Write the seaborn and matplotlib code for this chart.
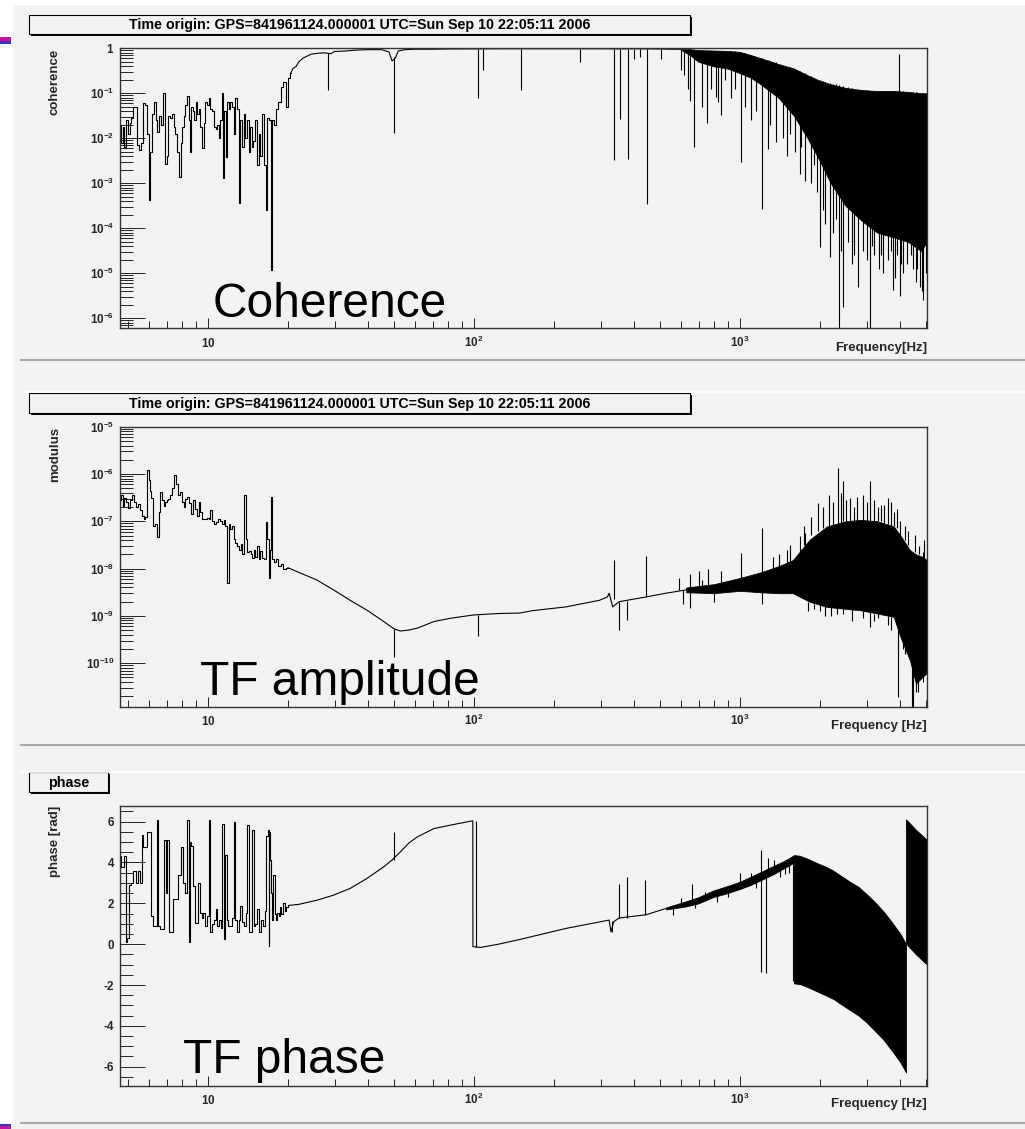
import numpy as np
import pandas as pd
import seaborn as sns
import matplotlib
matplotlib.use("Agg")
import matplotlib.pyplot as plt
from matplotlib.patches import Rectangle
from matplotlib.ticker import LogLocator, NullFormatter, MultipleLocator

# ---------------- data ----------------
title_text = "Time origin: GPS=841961124.000001 UTC=Sun Sep 10 22:05:11 2006"

# Coherence (log10 values)
coh_low_f = [4.68, 4.75, 4.82, 4.90, 4.97, 5.05, 5.12, 5.20, 5.29, 5.37, 5.45, 5.55, 5.65, 5.77, 5.85,
             5.95, 6.05, 6.12, 6.20, 6.32, 6.42, 6.50, 6.60, 6.72, 6.86, 6.95, 7.05, 7.17, 7.28, 7.38,
             7.49, 7.62, 7.75, 7.85, 7.95, 8.05, 8.17, 8.30, 8.40, 8.53, 8.62, 8.72, 8.85, 8.95, 9.05,
             9.20, 9.31, 9.45, 9.60, 9.71, 9.85, 10.0, 10.15, 10.3, 10.45, 10.6, 10.8, 10.95, 11.07, 11.2,
             11.35, 11.45, 11.6, 11.75, 11.9, 12.07, 12.2, 12.4, 12.61, 12.8, 13.0, 13.17, 13.3, 13.5, 13.76,
             13.9, 14.1, 14.37, 14.55, 14.7, 15.01, 15.2, 15.45, 15.67, 15.9, 16.1, 16.37, 16.6, 16.8, 17.1,
             17.4, 17.6, 17.85, 18.2, 18.65, 19.0, 19.5, 19.8, 20.1, 20.5]
coh_low_log = [-1.70, -2.10, -1.75, -2.20, -1.60, -1.90, -1.65, -1.55, -1.30, -1.30, -2.15, -2.25, -2.10, -1.22, -1.25,
               -1.90, -3.37, -2.30, -1.45, -1.19, -1.60, -1.85, -1.50, -1.70, -1.00, -2.56, -2.40, -1.50, -1.55, -1.45,
               -1.75, -1.90, -2.30, -2.85, -2.10, -1.75, -1.50, -1.25, -1.07, -1.60, -2.30, -1.30, -1.40, -1.60, -1.20,
               -1.45, -1.35, -1.75, -2.22, -1.65, -1.20, -1.25, -1.10, -1.35, -1.40, -1.75, -1.80, -1.70, -2.00, -1.60,
               -1.00, -2.89, -1.40, -2.41, -1.20, -1.35, -1.20, -1.30, -1.90, -1.10, -1.35, -3.44, -1.60, -2.20, -1.45,
               -2.00, -1.60, -2.30, -1.75, -2.20, -2.05, -1.60, -2.60, -1.90, -2.40, -1.45, -2.60, -3.59, -1.55, -1.60,
               -4.93, -1.60, -1.70, -1.35, -1.20, -0.85, -0.75, -1.30, -0.65, -0.55]
coh_mid_f = [20.5, 20.9, 21.5, 22.0, 22.8, 23.5, 24.5, 26.0, 27.5, 29.0, 30.0, 33.0, 36.0, 40.0, 45.0,
             48.0, 49.3, 50.7, 52.0, 55.0, 60.0, 70.0, 80.0, 100.0, 130.0, 160.0, 200.0, 250.0, 300.0, 350.0,
             400.0, 450.0, 500.0, 550.0, 600.0]
coh_mid_log = [-0.55, -0.45, -0.40, -0.30, -0.22, -0.18, -0.13, -0.11, -0.10, -0.12, -0.07, -0.06, -0.04, -0.03, -0.03,
               -0.08, -0.28, -0.22, -0.06, -0.03, -0.02, -0.02, -0.015, -0.012, -0.01, -0.01, -0.01, -0.01, -0.01, -0.012,
               -0.01, -0.012, -0.015, -0.02, -0.02]
coh_band_f = [600, 650, 700, 800, 900, 1000, 1100, 1200, 1400, 1600, 1800, 2000, 2200, 2500, 2900, 3300, 3800, 4300, 4800, 5060]
coh_band_hi = [-0.02, -0.02, -0.04, -0.05, -0.06, -0.08, -0.15, -0.22, -0.35, -0.45, -0.6, -0.72, -0.8, -0.88, -0.93,
               -0.95, -0.95, -0.97, -1.0, -1.0]
coh_band_lo = [-0.03, -0.15, -0.3, -0.4, -0.45, -0.55, -0.65, -0.8, -1.1, -1.5, -2.0, -2.5, -3.0, -3.5, -3.85,
               -4.1, -4.2, -4.3, -4.5, -4.3]
coh_spk_f = [28.4, 50.0, 104, 108, 150, 251, 337, 355, 381, 402, 422, 447, 507, 602, 653, 676, 755, 811, 853, 1014,
             1218, 1276, 1368, 1550, 1620, 1683, 1758, 1850, 1900, 2004, 2100, 2188, 2250, 2300, 2366, 2443, 2550, 2650,
             2782, 2900, 3090, 3200, 3350, 3467, 3600, 3776, 3900, 4000, 4121, 4250, 4500, 4650, 4775, 4900, 5000, 3955,
             620, 640, 720, 780, 830, 880, 930, 960, 1050, 1100, 1150, 1300, 1450, 1500, 1700, 1950, 2050, 2400, 2700,
             3000, 3150, 3400, 3700, 3850, 4050, 4400, 4600, 4850, 5040]
coh_spk_top = [-0.10, -0.20, -0.01, -0.01, -0.01, -0.01, -0.01, -0.01, -0.01, -0.01, -0.01, -0.01, -0.01, -0.02, -0.02,
               -0.03, -0.05, -0.05, -0.05, -0.08, -0.22, -0.25, -0.3, -0.42, -0.47, -0.5, -0.55, -0.62, -0.65, -0.7,
               -0.75, -0.78, -0.8, -0.8, -0.82, -0.83, -0.87, -0.89, -0.92, -0.93, -0.94, -0.94, -0.95, -0.95, -0.95,
               -0.95, -0.95, -0.95, -0.95, -0.97, -0.97, -0.98, -1.0, -1.0, -1.0, -1.0,
               -0.02, -0.02, -0.04, -0.05, -0.05, -0.06, -0.06, -0.07, -0.1, -0.15, -0.2, -0.28, -0.4, -0.42, -0.52,
               -0.7, -0.73, -0.85, -0.9, -0.93, -0.94, -0.95, -0.95, -0.95, -0.96, -0.97, -0.98, -1.0, -1.0]
coh_spk_bot = [-0.93, -1.89, -1.11, -0.48, -0.93, -0.30, -2.49, -1.56, -2.45, -0.23, -0.20, -3.45, -0.23, -0.49, -1.16,
               -2.19, -1.67, -1.08, -1.49, -2.53, -3.56, -2.23, -2.08, -1.9, -2.3, -2.79, -2.95, -3.0, -2.6, -4.41,
               -3.9, -4.63, -4.1, -3.8, -6.22, -5.74, -4.3, -4.8, -5.3, -4.5, -6.22, -4.6, -4.9, -5.0, -4.7,
               -5.37, -4.6, -5.5, -5.0, -4.8, -4.9, -4.9, -5.3, -5.6, -5.0, -0.12,
               -0.6, -0.9, -1.3, -0.9, -1.2, -0.7, -1.1, -0.9, -1.3, -1.6, -1.4, -1.7, -2.0, -2.4, -2.2,
               -3.2, -3.6, -4.5, -4.6, -4.7, -4.4, -4.6, -4.5, -5.1, -4.8, -4.6, -5.2, -5.4, -4.9]

# TF modulus (log10 values)
mod_low_f = [4.68, 4.75, 4.82, 4.90, 4.97, 5.06, 5.15, 5.22, 5.30, 5.40, 5.52, 5.60, 5.70, 5.77, 5.85,
             5.95, 6.03, 6.10, 6.18, 6.30, 6.40, 6.50, 6.60, 6.68, 6.78, 6.86, 6.95, 7.05, 7.17, 7.30,
             7.40, 7.55, 7.65, 7.82, 7.95, 8.05, 8.17, 8.30, 8.45, 8.60, 8.75, 8.90, 9.00, 9.15, 9.31,
             9.45, 9.60, 9.80, 10.0, 10.15, 10.3, 10.45, 10.6, 10.8, 11.0, 11.2, 11.4, 11.56, 11.75, 11.9,
             12.07, 12.25, 12.45, 12.61, 12.8, 13.0, 13.17, 13.4, 13.6, 13.8, 13.95, 14.1, 14.37, 14.6, 14.8,
             15.0, 15.2, 15.45, 15.67, 15.9, 16.1, 16.37, 16.6, 16.85, 17.0, 17.15, 17.35, 17.5, 17.85, 18.2,
             18.65, 19.0, 19.47, 20.0]
mod_low_log = [-6.55, -6.45, -6.67, -6.50, -6.60, -6.72, -6.55, -6.45, -6.60, -6.70, -6.63, -6.77, -6.88, -6.95, -6.90,
               -5.92, -6.13, -6.35, -6.50, -7.09, -7.05, -7.34, -6.80, -6.38, -6.55, -6.67, -6.60, -6.55, -6.52, -6.45,
               -6.30, -6.03, -6.21, -6.45, -6.38, -6.60, -6.70, -6.52, -6.49, -6.62, -6.84, -6.55, -6.74, -6.88, -6.60,
               -6.80, -6.95, -6.95, -6.92, -6.95, -6.77, -7.00, -7.06, -7.02, -6.95, -7.00, -7.05, -6.98, -7.10, -8.30,
               -7.05, -7.16, -7.10, -7.38, -7.45, -7.52, -7.60, -7.48, -7.70, -6.45, -7.38, -7.65, -7.62, -7.70, -7.77,
               -7.60, -7.75, -7.52, -7.80, -7.62, -7.77, -7.80, -7.02, -7.38, -8.19, -7.60, -6.48, -7.80, -7.87, -7.80,
               -7.94, -7.90, -8.00, -7.98]
mod_mid_f = [20.0, 22.2, 25.7, 29.7, 34.3, 39.7, 45.9, 50.0, 53.0, 57.0, 61.3, 70.8, 81.8, 100, 124,
             149, 166, 222, 297, 318, 323, 333, 352, 444, 529, 629]
mod_mid_log = [-7.98, -8.09, -8.24, -8.45, -8.67, -8.88, -9.12, -9.27, -9.32, -9.30, -9.26, -9.12, -9.05, -8.98, -8.95,
               -8.94, -8.89, -8.81, -8.67, -8.60, -8.52, -8.81, -8.70, -8.60, -8.52, -8.45]
mod_band_f = [629, 800, 1000, 1200, 1400, 1585, 1832, 2127, 2500, 2840, 3300, 3794, 4018, 4366, 4600, 4850, 5060]
mod_band_hi = [-8.40, -8.33, -8.20, -8.08, -7.95, -7.82, -7.39, -7.11, -7.00, -6.97, -7.00, -7.11, -7.30, -7.61,
               -7.70, -7.75, -7.82]
mod_band_lo = [-8.50, -8.52, -8.47, -8.50, -8.52, -8.52, -8.70, -8.81, -8.85, -8.88, -8.95, -9.02, -9.44, -9.94,
               -10.43, -10.30, -10.20]
mod_spk_f = [50, 104, 337, 351, 376, 445, 648, 648, 700, 760, 850, 1015, 1218, 1218, 1330, 1400, 1683, 1757, 1970,
             2168, 2341, 2445, 2600, 2750, 3085, 3400, 3500, 3700, 4018, 4740, 4880, 3940, 4430, 4470, 3085, 2318, 2000,
             590, 610, 720, 800, 1500, 1550, 1750, 1850, 2050, 2250, 2400, 2500, 2700, 2900, 3000, 3200, 3300, 3600,
             3800, 3900, 4200, 4300, 4550, 4950,
             1800, 1900, 2100, 2200, 2450, 2650, 2900, 3200, 3300, 3600, 3700, 4100, 4200, 4600, 4700, 4900]
mod_spk_from = [-9.27, -8.98, -8.65, -8.70, -8.69, -8.60, -8.45, -8.45, -8.40, -8.38, -8.35, -8.25, -8.10, -8.30, -8.05,
                -8.0, -7.8, -7.6, -7.2, -7.1, -7.05, -7.0, -7.0, -7.0, -7.0, -7.0, -7.05, -7.1, -7.3, -7.7, -7.8,
                -9.0, -9.8, -9.8, -8.9, -8.8, -8.75,
                -8.45, -8.45, -8.4, -8.35, -7.9, -7.85, -7.5, -7.3, -7.15, -7.1, -7.05, -7.0, -7.0, -7.0, -7.0, -7.0,
                -7.0, -7.05, -7.1, -7.15, -7.4, -7.5, -7.65, -7.8,
                -8.7, -8.75, -8.8, -8.8, -8.85, -8.85, -8.9, -8.95, -8.95, -9.0, -9.02, -9.4, -9.6, -10.3, -10.3, -10.2]
mod_spk_to = [-9.87, -9.43, -7.82, -9.30, -9.09, -7.74, -8.11, -8.84, -8.05, -8.0, -8.05, -7.66, -7.15, -8.75, -7.75,
              -7.7, -7.32, -7.25, -6.61, -6.44, -5.87, -6.15, -6.51, -6.48, -6.15, -6.65, -6.65, -6.6, -7.0, -7.53,
              -7.64, -10.71, -10.93, -10.93, -9.23, -8.95, -8.9,
              -8.2, -8.75, -8.25, -8.7, -7.6, -7.5, -7.1, -6.9, -6.7, -6.6, -6.4, -6.55, -6.7, -6.45, -6.6, -6.55,
              -6.7, -6.5, -6.8, -6.75, -7.1, -7.2, -7.3, -7.4,
              -8.9, -8.85, -9.0, -9.0, -8.95, -9.1, -9.05, -9.1, -9.05, -9.2, -9.3, -9.7, -9.8, -10.6, -10.6, -10.4]

# TF phase (rad)
ph_low_f = [4.69, 4.78, 4.87, 4.95, 5.03, 5.10, 5.20, 5.30, 5.40, 5.50, 5.60, 5.68, 5.78, 5.88, 5.98,
            6.08, 6.15, 6.25, 6.38, 6.48, 6.55, 6.65, 6.78, 6.92, 7.00, 7.10, 7.20, 7.35, 7.48, 7.62,
            7.78, 7.90, 8.00, 8.12, 8.30, 8.45, 8.55, 8.62, 8.72, 8.85, 9.00, 9.15, 9.25, 9.40, 9.55,
            9.70, 9.85, 10.0, 10.17, 10.3, 10.45, 10.6, 10.8, 10.95, 11.1, 11.25, 11.4, 11.55, 11.7, 11.85,
            12.05, 12.25, 12.45, 12.6, 12.75, 12.95, 13.15, 13.35, 13.55, 13.8, 14.0, 14.2, 14.4, 14.6, 14.8,
            15.0, 15.2, 15.45, 15.7, 15.95, 16.2, 16.5, 16.7, 16.85, 17.0, 17.1, 17.25, 17.4, 17.55, 17.75,
            17.9, 18.1, 18.3, 18.6, 18.8, 19.0, 19.3, 19.6, 19.9, 20.2]
ph_low_val = [4.3, 3.8, 4.3, 0.1, 0.3, 2.9, 3.0, 3.56, 3.0, 3.56, 3.0, 5.34, 4.77, 4.77, 5.5,
              5.5, 1.39, 0.9, 0.9, 6.06, 0.9, 0.74, 0.74, 5.1, 2.5, 5.1, 0.58, 0.58, 2.19, 2.19,
              3.4, 3.4, 4.77, 3.0, 2.5, 6.06, 0.1, 5.0, 4.8, 2.84, 1.06, 1.06, 3.0, 1.55, 1.3,
              1.55, 0.9, 1.4, 6.06, 0.6, 1.0, 1.2, 1.71, 0.9, 1.2, 0.8, 5.9, 0.26, 4.37, 1.2,
              0.9, 0.9, 1.3, 5.98, 1.2, 0.6, 1.2, 1.87, 1.1, 0.9, 1.55, 5.82, 0.58, 0.58, 5.6,
              0.9, 1.0, 1.71, 0.6, 1.2, 0.9, 1.6, 5.3, 5.6, -0.1, 5.5, 4.1, 2.5, 1.2, 3.4,
              1.5, 1.2, 1.55, 1.4, 1.8, 1.5, 2.0, 1.6, 1.8, 1.9]
ph_mid_f = [20.2, 22.0, 25.7, 29.7, 34.3, 39.7, 45.9, 49.2, 53.0, 57.0, 61.3, 70.8, 81.8, 94.6, 99.2,
            99.3, 106, 124, 149, 222, 323, 328, 336, 352, 444, 529]
ph_mid_val = [1.9, 1.95, 2.15, 2.40, 2.73, 3.22, 3.79, 4.11, 4.52, 4.95, 5.25, 5.66, 5.83, 5.99, 6.04,
              -0.12, -0.16, 0.0, 0.23, 0.77, 1.18, 0.6, 1.1, 1.28, 1.44, 1.75]
ph_b1_f = [529, 629, 700, 793, 900, 1000, 1100, 1207, 1350, 1457, 1530, 1600]
ph_b1_hi = [1.8, 2.1, 2.3, 2.62, 2.85, 3.05, 3.3, 3.55, 3.85, 4.05, 4.2, 4.36]
ph_b1_lo = [1.7, 1.85, 2.0, 2.3, 2.5, 2.7, 2.9, 3.15, 3.45, 3.7, 3.85, 4.0]
ph_b2_f = [1600, 1683, 1800, 1945, 2100, 2249, 2400, 2600, 2800, 3000, 3200, 3474, 3794, 4018, 4220]
ph_b2_hi = [4.36, 4.33, 4.18, 3.98, 3.8, 3.6, 3.35, 3.05, 2.8, 2.45, 2.1, 1.6, 0.95, 0.5, 0.0]
ph_b2_lo = [-1.92, -1.95, -2.1, -2.3, -2.5, -2.68, -2.93, -3.23, -3.5, -3.83, -4.2, -4.68, -5.33, -5.78, -6.28]
ph_b3_f = [4220, 4600, 5060]
ph_b3_hi = [6.11, 5.6, 5.1]
ph_b3_lo = [0.03, -0.5, -1.0]
ph_spk_f = [50, 102, 330, 353, 376, 441, 659, 1000, 1207, 1207, 1260, 1280, 1350, 1590, 1610, 900, 1100,
            560, 600, 680, 740, 820, 1150, 1420, 1480, 1530]
ph_spk_from = [4.11, -0.13, 1.15, 1.28, 1.3, 1.44, 2.0, 2.85, 3.3, 3.3, 3.4, 3.4, 3.6, 4.2, 4.3, 2.7, 3.0,
               1.8, 1.95, 2.1, 2.25, 2.45, 3.2, 3.8, 3.9, 4.0]
ph_spk_to = [5.5, 6.04, 0.6, 2.97, 3.3, 3.13, 2.97, 3.5, 4.6, -1.36, -1.39, 4.2, 4.1, -1.8, -1.8, 2.3, 3.5,
             1.45, 2.25, 1.75, 2.55, 2.05, 2.75, 3.3, 3.45, 3.5]

x_ticks = [10, 100, 1000]
x_ticklabels = [r"$\mathbf{10}$", r"$\mathbf{10^{2}}$", r"$\mathbf{10^{3}}$"]
coh_yticks = [1e-6, 1e-5, 1e-4, 1e-3, 1e-2, 1e-1, 1]
coh_ylabels = [r"$\mathbf{10^{-6}}$", r"$\mathbf{10^{-5}}$", r"$\mathbf{10^{-4}}$", r"$\mathbf{10^{-3}}$",
               r"$\mathbf{10^{-2}}$", r"$\mathbf{10^{-1}}$", r"$\mathbf{1}$"]
mod_yticks = [1e-10, 1e-9, 1e-8, 1e-7, 1e-6, 1e-5]
mod_ylabels = [r"$\mathbf{10^{-10}}$", r"$\mathbf{10^{-9}}$", r"$\mathbf{10^{-8}}$", r"$\mathbf{10^{-7}}$",
               r"$\mathbf{10^{-6}}$", r"$\mathbf{10^{-5}}$"]
ph_yticks = [-6, -4, -2, 0, 2, 4, 6]
ph_ylabels = ["-6", "-4", "-2", "0", "2", "4", "6"]

# ---------------- style ----------------
sns.set_theme(style="white")
plt.rcParams["font.family"] = ["Liberation Sans", "DejaVu Sans"]
plt.rcParams["mathtext.fontset"] = "custom"
plt.rcParams["mathtext.rm"] = "Liberation Sans"
plt.rcParams["mathtext.bf"] = "Liberation Sans:bold"
plt.rcParams["axes.unicode_minus"] = False

BG = "#f2f2f2"
W, H = 1025, 1129
fig = plt.figure(figsize=(W / 100, H / 100), dpi=100, facecolor=BG)

XL, XR = 120.3, 927.0


def add_axes_px(top, bottom):
    return fig.add_axes([XL / W, 1 - bottom / H, (XR - XL) / W, (bottom - top) / H])


def trace(ax, f, y, steps=False):
    df = pd.DataFrame({"f": f, "y": y})
    sns.lineplot(data=df, x="f", y="y", ax=ax, color="black", lw=0.8, estimator=None, sort=False,
                 drawstyle="steps-mid" if steps else "default")


def style(ax, ylog, yticks, ylabels, ylim):
    ax.set_facecolor("none")
    ax.set_xscale("log")
    if ylog:
        ax.set_yscale("log")
    ax.set_xlim(4.69, 5060)
    ax.set_ylim(*ylim)
    ax.set_xticks(x_ticks, labels=x_ticklabels, va="baseline")
    ax.xaxis.set_minor_locator(LogLocator(base=10, subs=np.arange(2, 10) * 1.0, numticks=100))
    ax.xaxis.set_minor_formatter(NullFormatter())
    ax.set_yticks(yticks, labels=ylabels)
    if ylog:
        ax.yaxis.set_minor_locator(LogLocator(base=10, subs=np.arange(2, 10) * 1.0, numticks=100))
    else:
        ax.yaxis.set_minor_locator(MultipleLocator(0.5))
    ax.yaxis.set_minor_formatter(NullFormatter())
    ax.tick_params(axis="x", which="major", direction="in", length=7.2, width=0.7, color="#222222",
                   top=False, bottom=True, pad=13.5, labelsize=8.4)
    ax.tick_params(axis="x", which="minor", direction="in", length=4.8, width=0.7, color="#222222",
                   top=False, bottom=True)
    ax.tick_params(axis="y", which="major", direction="in", length=18, width=0.7, color="#222222",
                   left=True, right=False, pad=4.3, labelsize=8.4)
    ax.tick_params(axis="y", which="minor", direction="in", length=9.4, width=0.7, color="#222222",
                   left=True, right=False)
    for lab in ax.get_yticklabels():
        lab.set_fontweight("bold")
    for s in ax.spines.values():
        s.set_color("#333333")
        s.set_linewidth(1.0)
    ax.set_xlabel("")
    ax.set_ylabel("")


def lg(v):
    return np.power(10.0, np.asarray(v, dtype=float))


# ---- panel 1: coherence ----
ax1 = add_axes_px(48.3, 328.3)
ax1.set_xscale("log"); ax1.set_yscale("log")
ax1.fill_between(coh_band_f, lg(coh_band_lo), lg(coh_band_hi), color="black", lw=0.6, edgecolor="black")
trace(ax1, coh_low_f, lg(coh_low_log), steps=True)
trace(ax1, coh_mid_f, lg(coh_mid_log))
ax1.vlines(coh_spk_f, lg(coh_spk_bot), lg(coh_spk_top), color="black", lw=0.8)
style(ax1, True, coh_yticks, coh_ylabels, (10 ** -6.22, 1.0))

# ---- panel 2: modulus ----
ax2 = add_axes_px(426.7, 706.7)
ax2.set_xscale("log"); ax2.set_yscale("log")
ax2.fill_between(mod_band_f, lg(mod_band_lo), lg(mod_band_hi), color="black", lw=0.6, edgecolor="black")
trace(ax2, mod_low_f, lg(mod_low_log), steps=True)
trace(ax2, mod_mid_f, lg(mod_mid_log))
ax2.vlines(mod_spk_f, lg(mod_spk_from), lg(mod_spk_to), color="black", lw=0.8)
style(ax2, True, mod_yticks, mod_ylabels, (10 ** -10.92, 1e-5))

# ---- panel 3: phase ----
ax3 = add_axes_px(805.7, 1085.7)
ax3.set_xscale("log")
for bf, blo, bhi in [(ph_b1_f, ph_b1_lo, ph_b1_hi), (ph_b2_f, ph_b2_lo, ph_b2_hi), (ph_b3_f, ph_b3_lo, ph_b3_hi)]:
    ax3.fill_between(bf, blo, bhi, color="black", lw=0.6, edgecolor="black")
trace(ax3, ph_low_f, ph_low_val, steps=True)
trace(ax3, ph_mid_f, ph_mid_val)
ax3.vlines(ph_spk_f, ph_spk_from, ph_spk_to, color="black", lw=0.8)
style(ax3, False, ph_yticks, ph_ylabels, (-6.93, 6.78))

# ---------------- overlay (pad decorations, titles, labels) ----------------
ov = fig.add_axes([0, 0, 1, 1], zorder=10)
ov.set_xlim(0, W)
ov.set_ylim(H, 0)
ov.axis("off")
ov.patch.set_alpha(0)

ov.add_patch(Rectangle((0, 0), 13, H, facecolor="white", edgecolor="none"))
ov.add_patch(Rectangle((0, 0), W, 5, facecolor="white", edgecolor="none"))
# slide decoration bars
ov.add_patch(Rectangle((0, 37), 11, 4, facecolor="#c8109a", edgecolor="none"))
ov.add_patch(Rectangle((0, 41), 11, 3, facecolor="#3a32c0", edgecolor="none"))
ov.add_patch(Rectangle((0, 1123.5), 11, 2.5, facecolor="#3a32c0", edgecolor="none"))
ov.add_patch(Rectangle((0, 1126), 11, 3, facecolor="#c8109a", edgecolor="none"))

# pad separators
for yy in (359.5, 745.0, 1123.0):
    ov.plot([20, W], [yy, yy], color="#a8a8a8", lw=1.5, solid_capstyle="butt")
for yy in (392.0, 772.0):
    ov.plot([20, W], [yy, yy], color="white", lw=1.2, solid_capstyle="butt")


def pave(x0, x1, y0, y1, text):
    ov.add_patch(Rectangle((x0, y0), x1 - x0, y1 - y0, facecolor=BG, edgecolor="black", lw=0.8))
    ov.plot([x0 + 2, x1 + 1], [y1 + 1, y1 + 1], color="black", lw=1.4, solid_capstyle="butt")
    ov.plot([x1 + 1, x1 + 1], [y0 + 2, y1 + 1.5], color="black", lw=1.4, solid_capstyle="butt")
    ov.text((x0 + x1) / 2, (y0 + y1) / 2 + 0.5, text, ha="center", va="center", fontsize=10.3,
            fontweight="bold", color="black")


pave(29.3, 690, 15, 34.3, title_text)
pave(29.3, 690, 393.3, 413.3, title_text)
pave(29.3, 108.3, 772.3, 792.3, "phase")

# axis titles
for ytop, lab in [(48.3, "coherence"), (426.7, "modulus"), (805.7, "phase [rad]")]:
    ov.text(55, ytop, lab, rotation=90, ha="center", va="top", fontsize=9.5, fontweight="bold")
for yc, lab in [(348, "Frequency[Hz]"), (726, "Frequency [Hz]"), (1104.3, "Frequency [Hz]")]:
    ov.text(927, yc, lab, ha="right", va="center", fontsize=9.5, fontweight="bold")

# big annotations
ov.text(213, 316.7, "Coherence", ha="left", va="baseline", fontsize=34.5, color="black")
ov.text(200, 695, "TF amplitude", ha="left", va="baseline", fontsize=34.5, color="black")
ov.text(183, 1073, "TF phase", ha="left", va="baseline", fontsize=34.5, color="black")

fig.savefig("out.png", dpi=100, facecolor=BG)
